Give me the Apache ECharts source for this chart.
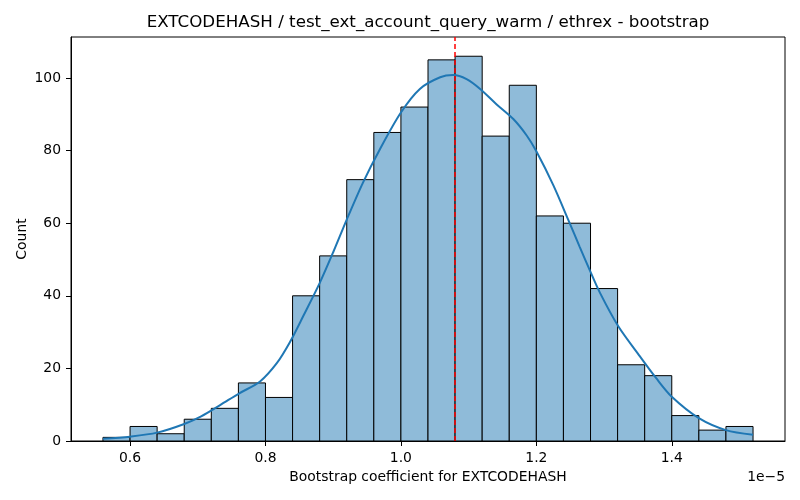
<!DOCTYPE html>
<html>
<head>
<meta charset="utf-8">
<script src="https://cdn.jsdelivr.net/npm/echarts@6/dist/echarts.min.js"></script>
<style>
  html, body { margin: 0; padding: 0; background: #fff; }
  #chart { width: 800px; height: 500px; }
</style>
</head>
<body>
<div id="chart"></div>
<script>
// histogram bins (x in units of 1e-5)
const binStart = [0.56, 0.60, 0.64, 0.68, 0.72, 0.76, 0.80, 0.84, 0.88, 0.92, 0.96, 1.00,
                  1.04, 1.08, 1.12, 1.16, 1.20, 1.24, 1.28, 1.32, 1.36, 1.40, 1.44, 1.48];
const binEnd   = [0.60, 0.64, 0.68, 0.72, 0.76, 0.80, 0.84, 0.88, 0.92, 0.96, 1.00, 1.04,
                  1.08, 1.12, 1.16, 1.20, 1.24, 1.28, 1.32, 1.36, 1.40, 1.44, 1.48, 1.52];
const counts   = [1, 4, 2, 6, 9, 16, 12, 40, 51, 72, 85, 92,
                  105, 106, 84, 98, 62, 60, 42, 21, 18, 7, 3, 4];

// kde curve
const kdeX = [0.56, 0.60, 0.64, 0.68, 0.705, 0.733, 0.762, 0.792, 0.817, 0.836, 0.856,
              0.88, 0.90, 0.92, 0.944, 0.969, 1.0, 1.028, 1.058, 1.077, 1.097, 1.117, 1.141,
              1.166, 1.186, 1.20, 1.225, 1.247, 1.264, 1.279, 1.294, 1.321, 1.353, 1.377, 1.40,
              1.44, 1.48, 1.52];
const kdeY = [0.6, 1.2, 2.3, 4.7, 6.8, 9.9, 13.2, 16.4, 21.5, 27.2, 34.5,
              43.5, 52, 61, 71.2, 80.4, 90.5, 97, 100.2, 100.8, 99.7, 97, 92.8,
              88.7, 84.1, 79.8, 70.5, 61, 53.5, 47, 40.8, 31.6, 23.3, 17.3, 12.2,
              6.3, 3.0, 1.7];

const meanLine = 1.08;
const xTicks = [0.6, 0.8, 1.0, 1.2, 1.4];
const yTicks = [0, 20, 40, 60, 80, 100];

const font = 'DejaVu Sans';
const chart = echarts.init(document.getElementById('chart'));

const histData = counts.map((c, i) => [binStart[i], binEnd[i], c]);
const kdeData = kdeX.map((x, i) => [x, kdeY[i]]);

const option = {
  backgroundColor: '#fff',
  animation: false,
  grid: {
    left: 71, top: 37, width: 714, height: 404,
    show: true, borderColor: '#000', borderWidth: 1, backgroundColor: 'transparent'
  },
  xAxis: {
    type: 'value',
    min: 0.5128, max: 1.5672,
    name: 'Bootstrap coefficient for EXTCODEHASH',
    nameLocation: 'middle',
    nameGap: 29,
    nameMoveOverlap: false,
    nameTextStyle: { fontFamily: font, fontSize: 13.9, color: '#000' },
    axisLine: { show: true, lineStyle: { color: '#000', width: 1 } },
    axisTick: { show: true, length: 5, lineStyle: { color: '#000' }, customValues: xTicks },
    axisLabel: {
      fontFamily: font, fontSize: 13.9, color: '#000', margin: 10,
      customValues: xTicks,
      formatter: v => v.toFixed(1)
    },
    splitLine: { show: false }
  },
  yAxis: {
    type: 'value',
    min: 0, max: 111.3,
    name: 'Count',
    nameLocation: 'middle',
    nameGap: 42,
    nameMoveOverlap: false,
    nameTextStyle: { fontFamily: font, fontSize: 13.9, color: '#000' },
    axisLine: { show: true, lineStyle: { color: '#000', width: 1 } },
    axisTick: { show: true, length: 5, lineStyle: { color: '#000' }, customValues: yTicks },
    axisLabel: {
      fontFamily: font, fontSize: 13.9, color: '#000', margin: 10,
      customValues: yTicks
    },
    splitLine: { show: false }
  },
  graphic: [
    {
      type: 'text',
      x: 428, y: 23,
      style: {
        text: 'EXTCODEHASH / test_ext_account_query_warm / ethrex - bootstrap',
        fontFamily: font, fontSize: 16.7, fill: '#000',
        align: 'center', verticalAlign: 'middle'
      }
    },
    {
      type: 'text',
      x: 785, y: 477,
      style: {
        text: '1e\u22125', fontFamily: font, fontSize: 13.9, fill: '#000',
        align: 'right', verticalAlign: 'middle'
      }
    }
  ],
  series: [
    {
      type: 'custom',
      data: histData,
      encode: { x: [0, 1], y: 2 },
      renderItem: function (params, api) {
        const p0 = api.coord([api.value(0), api.value(2)]);
        const p1 = api.coord([api.value(1), 0]);
        return {
          type: 'rect',
          shape: { x: p0[0], y: p0[1], width: p1[0] - p0[0], height: p1[1] - p0[1] },
          style: { fill: '#8fbbd9', stroke: '#000', lineWidth: 1 }
        };
      },
      z: 1
    },
    {
      type: 'line',
      data: kdeData,
      smooth: 0.3,
      showSymbol: false,
      lineStyle: { color: '#1f77b4', width: 2 },
      z: 3,
      markLine: {
        silent: true,
        symbol: ['none', 'none'],
        label: { show: false },
        lineStyle: { color: '#ff0000', type: [5, 3], width: 1.5 },
        data: [{ xAxis: meanLine }]
      }
    }
  ]
};

chart.setOption(option);
</script>
</body>
</html>
